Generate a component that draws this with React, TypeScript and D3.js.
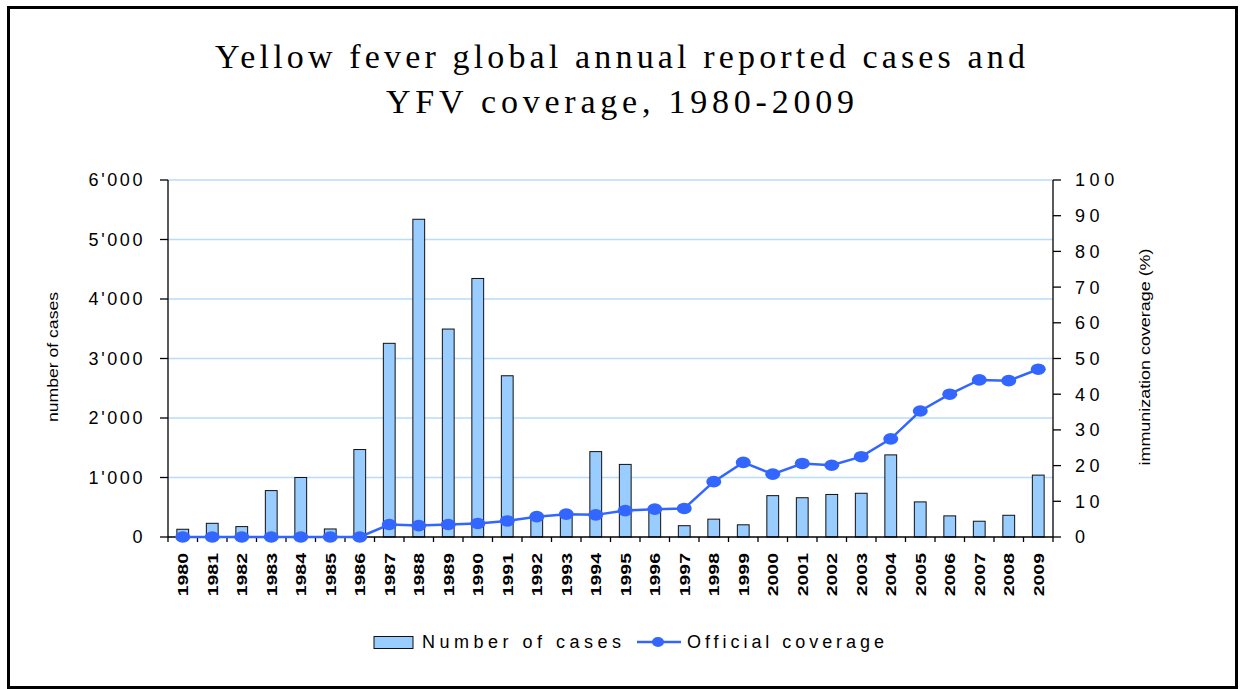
import React from "react";
import * as d3 from "d3";

const years = ["1980","1981","1982","1983","1984","1985","1986","1987","1988","1989","1990","1991","1992","1993","1994","1995","1996","1997","1998","1999","2000","2001","2002","2003","2004","2005","2006","2007","2008","2009"];
const cases = [130, 230, 175, 780, 1000, 135, 1470, 3255, 5340, 3495, 4345, 2710, 300, 360, 1435, 1220, 440, 190, 300, 205, 695, 660, 715, 735, 1380, 590, 355, 265, 365, 1040];
const coverage = [0, 0, 0, 0, 0, 0, 0, 3.5, 3.2, 3.5, 3.8, 4.5, 5.7, 6.4, 6.2, 7.4, 7.8, 8.0, 15.5, 20.9, 17.6, 20.6, 20.1, 22.5, 27.5, 35.3, 40, 44, 43.8, 47];
const leftTicks = [0, 1000, 2000, 3000, 4000, 5000, 6000];
const leftTickLabels = ["0", "1'000", "2'000", "3'000", "4'000", "5'000", "6'000"];
const rightTicks = [0, 10, 20, 30, 40, 50, 60, 70, 80, 90, 100];
const titleLines = ["Yellow fever global annual reported cases and", "YFV coverage, 1980-2009"];
const seriesNames = ["Number of cases", "Official coverage"];

const SANS = "'Liberation Sans', Arial, sans-serif";
const SERIF = "'Liberation Serif', 'Times New Roman', serif";
const BAR_FILL = "#99ccff";
const LINE = "#3366ff";
const GRID = "#b8dcfa";

export default function App() {
  const L = 168, R = 1053, T = 180, B = 537;
  const x = d3.scaleBand<string>().domain(years).range([L, R]).padding(0);
  const yL = d3.scaleLinear().domain([0, 6000]).range([B, T]);
  const yR = d3.scaleLinear().domain([0, 100]).range([B, T]);
  const bw = x.bandwidth() * 0.4;
  const cx = (y: string) => (x(y) as number) + x.bandwidth() / 2;
  const line = d3.line<number>().x((_, i) => cx(years[i])).y((d) => yR(d));
  const boundaries = d3.range(years.length + 1).map((i) => L + i * x.step());

  return (
    <svg width={1241} height={689} style={{ position: "absolute", left: 0, top: 0, background: "#fff" }}>
      <rect x={8.5} y={7.5} width={1228} height={680} fill="#fff" stroke="#000" strokeWidth={3} />
      {/* title */}
      <text x={620} y={68} textAnchor="middle" fontFamily={SERIF} fontSize={34} textLength={810} lengthAdjust="spacing" fill="#000">{titleLines[0]}</text>
      <text x={620} y={113} textAnchor="middle" fontFamily={SERIF} fontSize={34} textLength={468} lengthAdjust="spacing" fill="#000">{titleLines[1]}</text>

      {/* gridlines */}
      {leftTicks.filter((t) => t > 0).map((t) => (
        <line key={"g" + t} x1={L} x2={R} y1={yL(t)} y2={yL(t)} stroke={GRID} strokeWidth={1.5} />
      ))}

      {/* bars */}
      {cases.map((v, i) => (
        <rect key={"b" + i} x={cx(years[i]) - bw / 2} y={yL(v)} width={bw} height={B - yL(v)} fill={BAR_FILL} stroke="#111" strokeWidth={1} />
      ))}

      {/* axes */}
      <line x1={L} x2={L} y1={T} y2={B} stroke="#000" strokeWidth={1.3} />
      {leftTicks.map((t, i) => (
        <g key={"lt" + t}>
          <line x1={L - 8} x2={L} y1={yL(t)} y2={yL(t)} stroke="#000" strokeWidth={1.3} />
          <text x={145} y={yL(t)} dy="0.36em" textAnchor="end" fontFamily={SANS} fontSize={18} letterSpacing={2.6} fill="#000">{leftTickLabels[i]}</text>
        </g>
      ))}
      <line x1={R} x2={R} y1={T} y2={B} stroke="#000" strokeWidth={1.3} />
      {rightTicks.map((t) => (
        <g key={"rt" + t}>
          <line x1={R} x2={R + 8} y1={yR(t)} y2={yR(t)} stroke="#000" strokeWidth={1.3} />
          <text x={1075} y={yR(t)} dy="0.36em" textAnchor="start" fontFamily={SANS} fontSize={18} letterSpacing={4.6} fill="#000">{String(t)}</text>
        </g>
      ))}
      <line x1={L} x2={R} y1={B} y2={B} stroke="#000" strokeWidth={1.3} />
      {boundaries.map((bx, i) => (
        <line key={"xt" + i} x1={bx} x2={bx} y1={B} y2={B + 5} stroke="#000" strokeWidth={1.3} />
      ))}
      {years.map((yv) => (
        <text key={"xl" + yv} transform={`translate(${cx(yv) + 5.5},553) rotate(-90) scale(1.3,1)`} textAnchor="end" fontFamily={SANS} fontWeight="bold" fontSize={15} fill="#000">{yv}</text>
      ))}

      {/* axis titles */}
      <text transform={`translate(58,357) rotate(-90)`} textAnchor="middle" fontFamily={SANS} fontSize={15} textLength={130} lengthAdjust="spacingAndGlyphs" fill="#000">number of cases</text>
      <text transform={`translate(1150,357) rotate(-90)`} textAnchor="middle" fontFamily={SANS} fontSize={15} textLength={217} lengthAdjust="spacingAndGlyphs" fill="#000">immunization coverage (%)</text>

      {/* coverage line */}
      <path d={line(coverage) || ""} fill="none" stroke={LINE} strokeWidth={2.5} />
      {coverage.map((v, i) => (
        <ellipse key={"m" + i} cx={cx(years[i])} cy={yR(v)} rx={7.5} ry={5.8} fill={LINE} />
      ))}

      {/* legend */}
      <rect x={374} y={636.5} width={39} height={12} fill={BAR_FILL} stroke="#111" strokeWidth={1} />
      <text x={422} y={648} fontFamily={SANS} fontSize={18} textLength={199} lengthAdjust="spacing" fill="#000">{seriesNames[0]}</text>
      <line x1={637} x2={681} y1={642} y2={642} stroke={LINE} strokeWidth={2.5} />
      <ellipse cx={658} cy={642} rx={6} ry={5} fill={LINE} />
      <text x={687} y={648} fontFamily={SANS} fontSize={18} textLength={197} lengthAdjust="spacing" fill="#000">{seriesNames[1]}</text>
    </svg>
  );
}
